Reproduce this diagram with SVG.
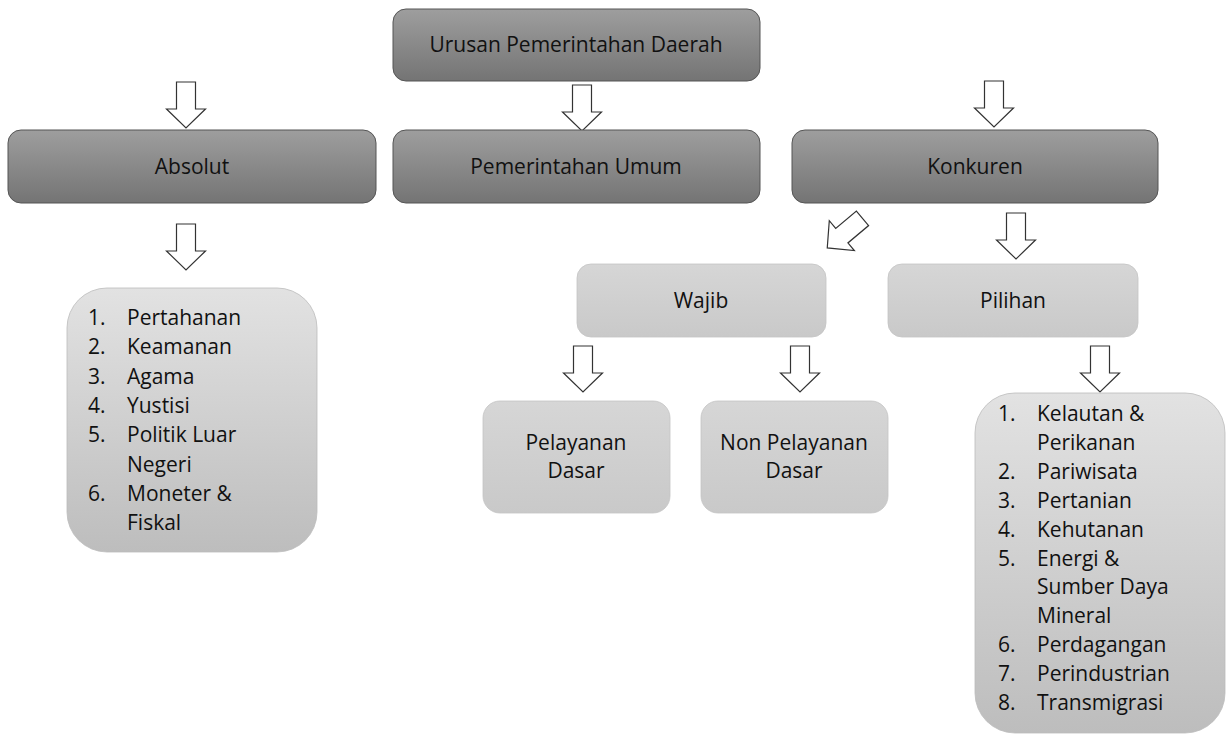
<svg xmlns="http://www.w3.org/2000/svg" xmlns:xlink="http://www.w3.org/1999/xlink" width="1227" height="735" viewBox="0 0 1227 735">
<style>
text{font-family:"Open Sans","Noto Sans","DejaVu Sans",sans-serif;font-size:21px;fill:#111}
.c{text-anchor:middle}
.dark{fill:url(#gDark);stroke:#555;stroke-width:1}
.light{fill:url(#gLight);stroke:#c4c4c4;stroke-width:0.8}
.list{fill:url(#gList);stroke:#bbb;stroke-width:0.8}
.arr{fill:#fff;stroke:#333;stroke-width:1.2;stroke-linejoin:miter}
</style>
<defs>
<linearGradient id="gDark" x1="0" y1="0" x2="0" y2="1">
<stop offset="0" stop-color="#9e9e9e"/><stop offset="1" stop-color="#747474"/>
</linearGradient>
<linearGradient id="gLight" x1="0" y1="0" x2="0" y2="1">
<stop offset="0" stop-color="#d6d6d6"/><stop offset="1" stop-color="#c9c9c9"/>
</linearGradient>
<linearGradient id="gList" x1="0" y1="0" x2="0" y2="1">
<stop offset="0" stop-color="#e2e2e2"/><stop offset="1" stop-color="#bdbdbd"/>
</linearGradient>
<path id="arr" class="arr" d="M-9.5,0 H9.5 V27 H19.5 L0,46 L-19.5,27 H-9.5 Z"/>
</defs>

<g id="connectors">
<use xlink:href="#arr" href="#arr" x="186" y="82"/>
<use xlink:href="#arr" href="#arr" x="582" y="85"/>
<use xlink:href="#arr" href="#arr" x="994" y="81"/>
<use xlink:href="#arr" href="#arr" x="186" y="224"/>
<path class="arr" transform="translate(862.5,218.3) rotate(50)" d="M-9.5,0 H9.5 V27 H19.5 L0,46 L-19.5,27 H-9.5 Z"/>
<use xlink:href="#arr" href="#arr" x="1016" y="213"/>
<use xlink:href="#arr" href="#arr" x="583" y="346"/>
<use xlink:href="#arr" href="#arr" x="800" y="346"/>
<use xlink:href="#arr" href="#arr" x="1100" y="346"/>
</g>

<g id="urusan">
<rect class="dark" x="393" y="9" width="367" height="72" rx="13"/>
<text class="c" x="576" y="52">Urusan Pemerintahan Daerah</text>
</g>
<g id="absolut">
<rect class="dark" x="8" y="130" width="368" height="73" rx="13"/>
<text class="c" x="192" y="174">Absolut</text>
</g>
<g id="pemerintahan-umum">
<rect class="dark" x="393" y="130" width="367" height="73" rx="13"/>
<text class="c" x="576" y="174">Pemerintahan Umum</text>
</g>
<g id="konkuren">
<rect class="dark" x="792" y="130" width="366" height="73" rx="13"/>
<text class="c" x="975" y="174">Konkuren</text>
</g>
<g id="wajib">
<rect class="light" x="577" y="264" width="249" height="73" rx="14"/>
<text class="c" x="701" y="308">Wajib</text>
</g>
<g id="pilihan">
<rect class="light" x="888" y="264" width="250" height="73" rx="14"/>
<text class="c" x="1013" y="308">Pilihan</text>
</g>
<g id="pelayanan-dasar">
<rect class="light" x="483" y="401" width="187" height="112" rx="17"/>
<text class="c" x="576" y="450">Pelayanan</text>
<text class="c" x="576" y="478">Dasar</text>
</g>
<g id="non-pelayanan-dasar">
<rect class="light" x="701" y="401" width="187" height="112" rx="17"/>
<text class="c" x="794" y="450">Non Pelayanan</text>
<text class="c" x="794" y="478">Dasar</text>
</g>
<g id="list-absolut">
<rect class="list" x="67" y="288" width="250" height="264" rx="40"/>
<text x="88" y="325">1.</text><text x="127" y="325">Pertahanan</text>
<text x="88" y="354.3">2.</text><text x="127" y="354.3">Keamanan</text>
<text x="88" y="383.6">3.</text><text x="127" y="383.6">Agama</text>
<text x="88" y="412.9">4.</text><text x="127" y="412.9">Yustisi</text>
<text x="88" y="442.2">5.</text><text x="127" y="442.2">Politik Luar</text>
<text x="127" y="471.5">Negeri</text>
<text x="88" y="500.8">6.</text><text x="127" y="500.8">Moneter &amp;</text>
<text x="127" y="530.1">Fiskal</text>
</g>
<g id="list-pilihan">
<rect class="list" x="975" y="393" width="250" height="340" rx="40"/>
<text x="998" y="421">1.</text><text x="1037" y="421">Kelautan &amp;</text>
<text x="1037" y="449.9">Perikanan</text>
<text x="998" y="478.8">2.</text><text x="1037" y="478.8">Pariwisata</text>
<text x="998" y="507.7">3.</text><text x="1037" y="507.7">Pertanian</text>
<text x="998" y="536.6">4.</text><text x="1037" y="536.6">Kehutanan</text>
<text x="998" y="565.5">5.</text><text x="1037" y="565.5">Energi &amp;</text>
<text x="1037" y="594.4">Sumber Daya</text>
<text x="1037" y="623.3">Mineral</text>
<text x="998" y="652.2">6.</text><text x="1037" y="652.2">Perdagangan</text>
<text x="998" y="681.1">7.</text><text x="1037" y="681.1">Perindustrian</text>
<text x="998" y="710">8.</text><text x="1037" y="710">Transmigrasi</text>
</g>
</svg>
